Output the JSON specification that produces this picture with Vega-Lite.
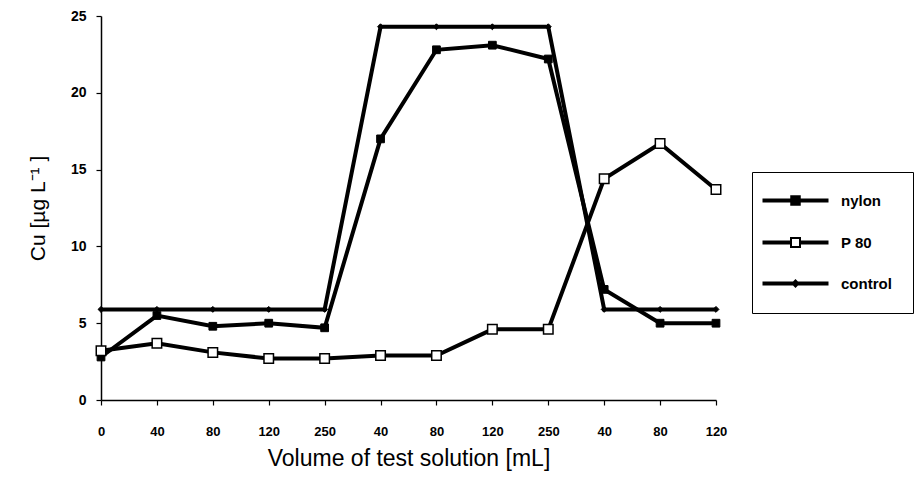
{
  "$schema": "https://vega.github.io/schema/vega-lite/v6.json",
  "width": 615,
  "height": 384,
  "autosize": {"type": "none"},
  "padding": {"left": 101, "top": 16, "right": 198, "bottom": 77},
  "background": "white",
  "config": {
    "view": {"stroke": null},
    "font": "Liberation Sans",
    "axis": {"grid": false, "domainColor": "black", "domainWidth": 1.5, "tickColor": "black", "tickWidth": 1.2, "labelColor": "black", "titleColor": "black", "labelFont": "Liberation Sans", "titleFont": "Liberation Sans"}
  },
  "data": {
    "values": [
      {"idx": 0, "series": "nylon", "value": 2.8},
      {"idx": 1, "series": "nylon", "value": 5.5},
      {"idx": 2, "series": "nylon", "value": 4.8},
      {"idx": 3, "series": "nylon", "value": 5.0},
      {"idx": 4, "series": "nylon", "value": 4.7},
      {"idx": 5, "series": "nylon", "value": 17.0},
      {"idx": 6, "series": "nylon", "value": 22.8},
      {"idx": 7, "series": "nylon", "value": 23.1},
      {"idx": 8, "series": "nylon", "value": 22.2},
      {"idx": 9, "series": "nylon", "value": 7.2},
      {"idx": 10, "series": "nylon", "value": 5.0},
      {"idx": 11, "series": "nylon", "value": 5.0},
      {"idx": 0, "series": "P 80", "value": 3.2},
      {"idx": 1, "series": "P 80", "value": 3.7},
      {"idx": 2, "series": "P 80", "value": 3.1},
      {"idx": 3, "series": "P 80", "value": 2.7},
      {"idx": 4, "series": "P 80", "value": 2.7},
      {"idx": 5, "series": "P 80", "value": 2.9},
      {"idx": 6, "series": "P 80", "value": 2.9},
      {"idx": 7, "series": "P 80", "value": 4.6},
      {"idx": 8, "series": "P 80", "value": 4.6},
      {"idx": 9, "series": "P 80", "value": 14.4},
      {"idx": 10, "series": "P 80", "value": 16.7},
      {"idx": 11, "series": "P 80", "value": 13.7},
      {"idx": 0, "series": "control", "value": 5.9},
      {"idx": 1, "series": "control", "value": 5.9},
      {"idx": 2, "series": "control", "value": 5.9},
      {"idx": 3, "series": "control", "value": 5.9},
      {"idx": 4, "series": "control", "value": 5.9},
      {"idx": 5, "series": "control", "value": 24.3},
      {"idx": 6, "series": "control", "value": 24.3},
      {"idx": 7, "series": "control", "value": 24.3},
      {"idx": 8, "series": "control", "value": 24.3},
      {"idx": 9, "series": "control", "value": 5.9},
      {"idx": 10, "series": "control", "value": 5.9},
      {"idx": 11, "series": "control", "value": 5.9}
    ]
  },
  "encoding": {
    "x": {
      "field": "idx", "type": "quantitative",
      "scale": {"domain": [0, 11], "nice": false, "zero": false},
      "axis": {
        "values": [0,1,2,3,4,5,6,7,8,9,10,11],
        "labelExpr": "['0','40','80','120','250','40','80','120','250','40','80','120'][datum.value]",
        "title": "Volume of test solution [mL]",
        "titleFontSize": 23, "titleFontWeight": "normal", "titlePadding": 9,
        "labelFontSize": 13, "labelFontWeight": "bold", "labelPadding": 20,
        "tickSize": 5, "labelFlush": false, "labelOverlap": false
      }
    },
    "y": {
      "field": "value", "type": "quantitative",
      "scale": {"domain": [0, 25], "nice": false},
      "axis": {
        "values": [0, 5, 10, 15, 20, 25],
        "title": "Cu [µg L⁻¹ ]",
        "titleFontSize": 21, "titleFontWeight": "normal", "titlePadding": 22,
        "labelFontSize": 14, "labelFontWeight": "bold", "labelPadding": 10,
        "tickSize": 5
      }
    }
  },
  "layer": [
    {
      "mark": {"type": "line", "strokeWidth": 4, "strokeJoin": "miter"},
      "encoding": {
        "detail": {"field": "series"},
        "color": {
          "field": "series", "type": "nominal",
          "scale": {"domain": ["nylon", "P 80", "control"], "range": ["black", "black", "black"]},
          "legend": {
            "title": null,
            "orient": "none",
            "legendX": 651,
            "legendY": 156,
            "strokeColor": "black",
            "padding": 21,
            "symbolSize": 100,
            "symbolOffset": 15,
            "labelOffset": 38,
            "rowPadding": 25,
            "labelFontSize": 15,
            "labelFontWeight": "bold",
            "labelColor": "black",
            "labelFont": "Liberation Sans",
            "encode": {
              "symbols": {
                "update": {
                  "shape": {"signal": "datum.value === 'nylon' ? 'M-6.4,-0.2L6.4,-0.2L6.4,0.2L-6.4,0.2Z M-0.85,-0.85L0.85,-0.85L0.85,0.85L-0.85,0.85Z' : datum.value === 'P 80' ? 'M-6.4,-0.2L-0.9,-0.2L-0.9,0.2L-6.4,0.2Z M0.9,-0.2L6.4,-0.2L6.4,0.2L0.9,0.2Z M-0.9,-0.9L0.9,-0.9L0.9,0.9L-0.9,0.9Z' : 'M-6.4,-0.2L6.4,-0.2L6.4,0.2L-6.4,0.2Z M0,-0.6L0.6,0L0,0.6L-0.6,0Z'"},
                  "fill": {"signal": "datum.value === 'P 80' ? 'white' : 'black'"},
                  "stroke": {"value": "black"},
                  "strokeWidth": {"value": 2},
                  "opacity": {"value": 1},
                  "fillOpacity": {"value": 1}
                }
              }
            }
          }
        }
      }
    },
    {
      "transform": [{"filter": "datum.series === 'control'"}],
      "mark": {"type": "point", "shape": "diamond", "filled": true, "fill": "black", "stroke": "black", "strokeWidth": 1, "size": 35, "opacity": 1}
    },
    {
      "transform": [{"filter": "datum.series === 'nylon'"}],
      "mark": {"type": "point", "shape": "square", "filled": true, "fill": "black", "stroke": "black", "strokeWidth": 1, "size": 60, "opacity": 1}
    },
    {
      "transform": [{"filter": "datum.series === 'P 80'"}],
      "mark": {"type": "point", "shape": "square", "filled": true, "fill": "white", "stroke": "black", "strokeWidth": 1.5, "size": 90, "opacity": 1}
    }
  ]
}
